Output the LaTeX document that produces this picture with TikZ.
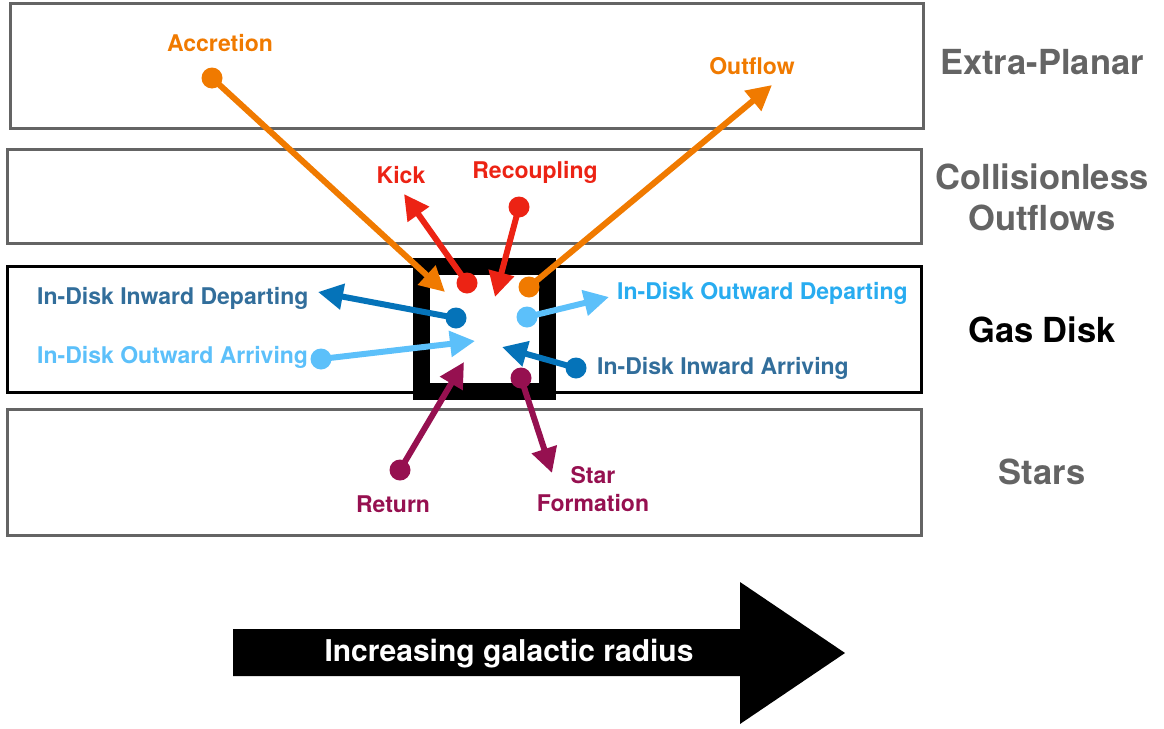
\documentclass[tikz,border=0pt]{standalone}
\usepackage{fontspec}
\setmainfont{TeX Gyre Heros}
\usetikzlibrary{arrows.meta}
\definecolor{cOrange}{RGB}{240,122,0}
\definecolor{cRed}{RGB}{236,35,20}
\definecolor{cDBlue}{RGB}{5,115,185}
\definecolor{cDBlueT}{RGB}{50,110,155}
\definecolor{cLBlue}{RGB}{92,192,250}
\definecolor{cLBlueT}{RGB}{40,172,240}
\definecolor{cPurple}{RGB}{150,16,80}
\definecolor{cGray}{RGB}{100,100,100}
\begin{document}
\begin{tikzpicture}[x=1pt,y=-1pt,
  layer/.style={draw=#1, line width=3pt, inner sep=0pt, anchor=north west},
  flow/.style={line width=6pt, color=#1, -{Triangle[length=25pt,width=25pt]}},
  dot/.style={circle, fill=#1, inner sep=0pt, minimum size=21pt},
  lab/.style={font=\fontsize{23}{28}\selectfont\bfseries, text=#1, inner sep=0pt, align=center},
  side/.style={font=\fontsize{34.5}{41}\selectfont\bfseries, text=#1, inner sep=0pt, align=center}]
\useasboundingbox (0,0) rectangle (1164,728);
% layers
\node[layer=cGray, minimum width=913pt, minimum height=125pt] (extra) at (9,2) {};
\node[layer=cGray, minimum width=914pt, minimum height=94pt] (coll) at (6,148) {};
\node[layer=black, minimum width=914pt, minimum height=126pt] (gas) at (6,265) {};
\node[layer=cGray, minimum width=914pt, minimum height=126pt] (stars) at (6,408) {};
% side labels
\node[side=cGray] (lextra) at (1042,62) {Extra-Planar};
\node[side=cGray] (lcoll) at (1042,197) {Collisionless\\Outflows};
\node[side=black] (lgas) at (1042,330) {Gas Disk};
\node[side=cGray] (lstars) at (1042,472) {Stars};
% central cell
\node[draw=black, fill=white, line width=17pt, minimum width=126pt, minimum height=125.5pt, inner sep=0pt] (cell) at (484.5,328.75) {};
% tips
\coordinate (tAcc) at (445,292);
\coordinate (tOut) at (772,85);
\coordinate (tKick) at (404,194);
\coordinate (tRec) at (495,297);
\coordinate (tIDep) at (318,292);
\coordinate (tOArr) at (475,341);
\coordinate (tODep) at (609,297);
\coordinate (tIArr) at (502,347);
\coordinate (tRet) at (464,362);
\coordinate (tSF) at (552,473);
% dots
\node[dot=cOrange] (dAcc) at (212,78) {};
\node[dot=cOrange] (dOut) at (529,287) {};
\node[dot=cRed] (dKick) at (467,283) {};
\node[dot=cRed] (dRec) at (519,207) {};
\node[dot=cDBlue] (dIDep) at (456,318) {};
\node[dot=cLBlue] (dOArr) at (321,359) {};
\node[dot=cLBlue] (dODep) at (527,317) {};
\node[dot=cDBlue] (dIArr) at (576,368) {};
\node[dot=cPurple] (dRet) at (400,470) {};
\node[dot=cPurple] (dSF) at (521,378) {};
% flows
\draw[flow=cOrange] (dAcc.center) -- (tAcc);
\draw[flow=cOrange] (dOut.center) -- (tOut);
\draw[flow=cRed] (dKick.center) -- (tKick);
\draw[flow=cRed] (dRec.center) -- (tRec);
\draw[flow=cDBlue] (dIDep.center) -- (tIDep);
\draw[flow=cLBlue] (dOArr.center) -- (tOArr);
\draw[flow=cLBlue] (dODep.center) -- (tODep);
\draw[flow=cDBlue] (dIArr.center) -- (tIArr);
\draw[flow=cPurple] (dRet.center) -- (tRet);
\draw[flow=cPurple] (dSF.center) -- (tSF);
% labels
\node[lab=cOrange] (lAcc) at (220,43) {Accretion};
\node[lab=cOrange] (lOut) at (752,66) {Outflow};
\node[lab=cRed] (lKick) at (401,175) {Kick};
\node[lab=cRed] (lRec) at (535,172) {Recoupling};
\node[lab=cDBlueT, anchor=west] (lIDep) at (37,298) {In-Disk Inward Departing};
\node[lab=cLBlue, anchor=west] (lOArr) at (37,357) {In-Disk Outward Arriving};
\node[lab=cLBlueT, anchor=west] (lODep) at (617,293) {In-Disk Outward Departing};
\node[lab=cDBlueT, anchor=west] (lIArr) at (597,368) {In-Disk Inward Arriving};
\node[lab=cPurple] (lRet) at (393,504) {Return};
\node[lab=cPurple] (lSF) at (593,489) {Star\\Formation};
% big arrow
\fill[black] (233,629) -- (740,629) -- (740,582) -- (845,653) -- (740,724) -- (740,676) -- (233,676) -- cycle;
\node[font=\fontsize{30}{36}\selectfont\bfseries, text=white, inner sep=0pt] (radius) at (509,654) {Increasing galactic radius};
\end{tikzpicture}
\end{document}
